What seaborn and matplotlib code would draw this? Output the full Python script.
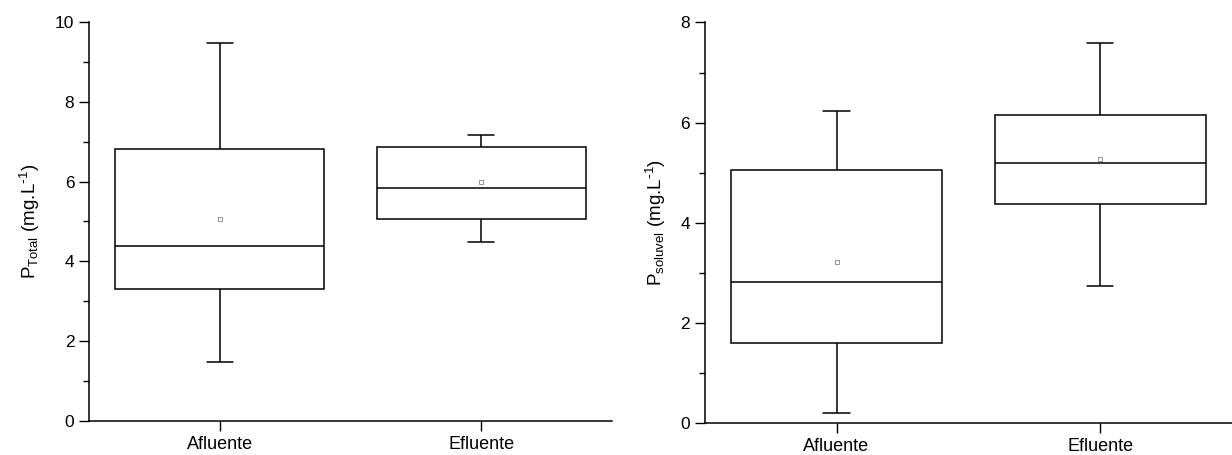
import numpy as np
import pandas as pd
import matplotlib.pyplot as plt
import seaborn as sns
from matplotlib.ticker import MultipleLocator

groups = ["Afluente", "Efluente"]

# P total: whisker ends, quartiles, median and mean
ptotal_min = [1.49, 4.49]
ptotal_q1 = [3.32, 5.06]
ptotal_med = [4.39, 5.85]
ptotal_q3 = [6.81, 6.86]
ptotal_max = [9.48, 7.17]
ptotal_mean = [5.06, 5.98]

# P soluvel
psol_min = [0.21, 2.74]
psol_q1 = [1.60, 4.38]
psol_med = [2.81, 5.20]
psol_q3 = [5.06, 6.15]
psol_max = [6.24, 7.58]
psol_mean = [3.22, 5.27]


def five_numbers(mins, q1s, meds, q3s, maxs):
    # five points per group give back exactly these quartiles
    rows = []
    for i, g in enumerate(groups):
        for v in (mins[i], q1s[i], meds[i], q3s[i], maxs[i]):
            rows.append({"grupo": g, "valor": v})
    return pd.DataFrame(rows)


def draw_panel(ax, df, means, ymax, ylabel):
    sns.boxplot(data=df, x="grupo", y="valor", ax=ax, whis=(0, 100),
                width=0.8, color="white", linecolor="black", linewidth=1.1,
                saturation=1, capwidths=0.1)
    sns.pointplot(x=groups, y=means, ax=ax, linestyle="none", markers="s",
                  color="gray", markersize=3, markerfacecolor="none",
                  markeredgewidth=0.6, errorbar=None)
    ax.set_xlim(-0.5, 1.5)
    ax.set_ylim(0, ymax)
    ax.yaxis.set_major_locator(MultipleLocator(2))
    ax.yaxis.set_minor_locator(MultipleLocator(1))
    ax.tick_params(axis="y", which="major", length=7, width=1, labelsize=12.5,
                   color="black", labelcolor="black")
    ax.tick_params(axis="y", which="minor", length=4, width=1, color="black")
    ax.tick_params(axis="x", length=7, width=1, labelsize=13,
                   color="black", labelcolor="black")
    ax.set_xlabel("")
    ax.set_ylabel(ylabel, fontsize=13.5, labelpad=9, color="black")
    for s in ("left", "bottom"):
        ax.spines[s].set_linewidth(1.1)
        ax.spines[s].set_color("black")
    sns.despine(ax=ax)


sns.set_style("ticks")
plt.rcParams["font.family"] = ["Liberation Sans", "DejaVu Sans"]
plt.rcParams["mathtext.default"] = "regular"

fig = plt.figure(figsize=(12.32, 4.55), dpi=100)
ax1 = fig.add_axes([0.0722, 0.0747, 0.4245, 0.877])
ax2 = fig.add_axes([0.572, 0.0697, 0.428, 0.881])

df_total = five_numbers(ptotal_min, ptotal_q1, ptotal_med, ptotal_q3, ptotal_max)
df_sol = five_numbers(psol_min, psol_q1, psol_med, psol_q3, psol_max)

draw_panel(ax1, df_total, ptotal_mean, 10, r"P$_{Total}$ (mg.L$^{\text{-}1}$)")
draw_panel(ax2, df_sol, psol_mean, 8, r"P$_{soluvel}$ (mg.L$^{\text{-}1}$)")

fig.savefig("out.png", dpi=100)
